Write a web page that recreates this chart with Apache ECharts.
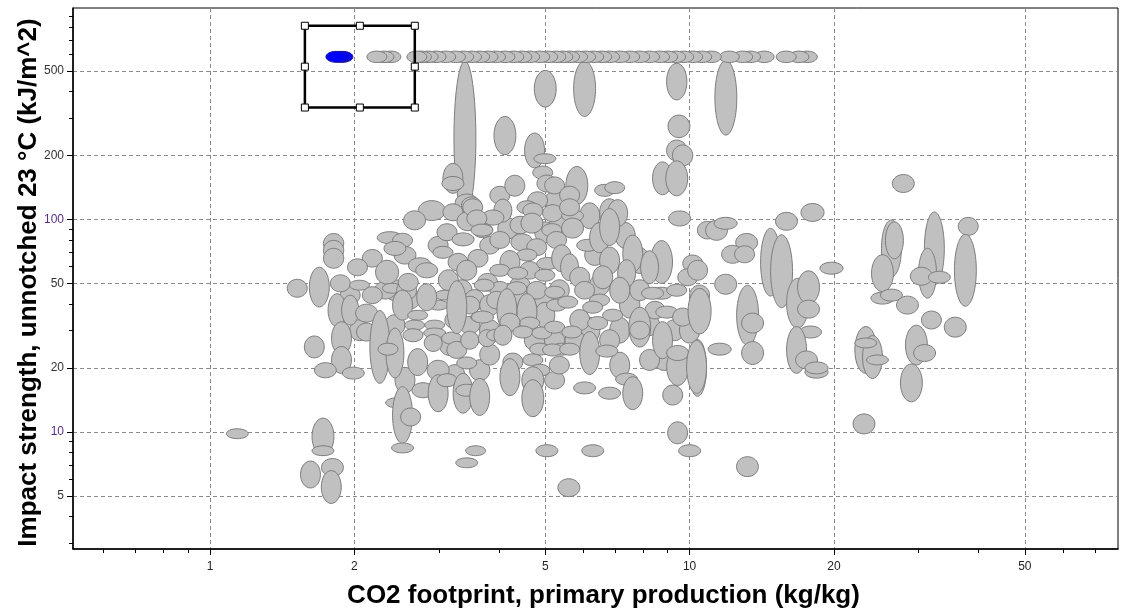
<!DOCTYPE html>
<html><head><meta charset="utf-8">
<script src="https://cdn.jsdelivr.net/npm/echarts@6/dist/echarts.min.js"></script>
<style>html,body{margin:0;padding:0;background:#fff}#c{width:1124px;height:610px}</style>
</head><body><div id="c"></div>
<script>
// Axis ranges and tick values (data units)
const X_MIN = 0.518, X_MAX = 78.2;
const Y_MIN = 2.81, Y_MAX = 988;
const xMajorTicks = [1, 2, 5, 10, 20, 50];
const xMinorTicks = [0.6, 0.7, 0.8, 0.9, 3, 4, 6, 7, 8, 9, 30, 40, 60, 70];
const yMajorTicks = [5, 10, 20, 50, 100, 200, 500];
const yMinorTicks = [3, 4, 6, 7, 8, 9, 30, 40, 60, 70, 80, 90, 300, 400, 600, 700, 800, 900];

// Each material: [CO2 centre (kg/kg), impact centre (kJ/m^2), CO2 range factor, impact range factor]
const grayMaterials = [
[3.40, 241, 1.054, 2.31],[4.12, 248, 1.054, 1.23],[5.0, 412, 1.054, 1.22],[6.04, 412, 1.054, 1.35],
[9.4, 445, 1.05, 1.22],[9.5, 274, 1.054, 1.13],[11.9, 374, 1.054, 1.50],
// fill of the dense cluster (drawn first, under the rest)
[3.35, 46.4, 1.05, 1.12],[3.56, 41.7, 1.05, 1.12],[4.43, 49, 1.05, 1.10],[4.99, 41.7, 1.05, 1.12],
[4.75, 27, 1.05, 1.12],[5.23, 27, 1.05, 1.10],[6.19, 30.1, 1.05, 1.15],[6.49, 49, 1.05, 1.12],
[7.5, 39.5, 1.05, 1.15],[8.25, 31.8, 1.05, 1.12],[9.3, 30.1, 1.05, 1.12],[10, 30.1, 1.05, 1.15],
[8.85, 21.8, 1.05, 1.12],[3.83, 30.1, 1.05, 1.12],[3.48, 31.8, 1.05, 1.10],[3.16, 25.6, 1.05, 1.12],
[3.65, 19.5, 1.05, 1.12],[2.43, 46.4, 1.05, 1.12],[2.61, 41.7, 1.05, 1.10],
[4.18, 90.7, 1.05, 1.12],[4.99, 86.9, 1.05, 1.12],[5.23, 122.8, 1.05, 1.10],
[3.83, 75.5, 1.049, 1.10],[3.62, 65.6, 1.049, 1.10],[3.29, 62.9, 1.049, 1.10],[3.14, 51.7, 1.049, 1.12],
[3.79, 50.6, 1.049, 1.10],[2.99, 75.5, 1.049, 1.10],[2.55, 67.8, 1.054, 1.10],[2.18, 65.6, 1.049, 1.10],
[2.32, 46.4, 1.054, 1.10],[1.96, 44, 1.049, 1.10],[2.43, 31.8, 1.049, 1.12],[2.05, 30.1, 1.049, 1.12],
[3.24, 33.6, 1.049, 1.10],[3.48, 39.5, 1.049, 1.10],[3.83, 39.5, 1.049, 1.12],[3.83, 23.1, 1.049, 1.12],
[3.24, 18.5, 1.049, 1.12],[2.55, 17.5, 1.049, 1.15],
[4.02, 130, 1.049, 1.10],[4.32, 144, 1.049, 1.12],[4.43, 94, 1.049, 1.10],[5.35, 94, 1.049, 1.12],
[6.19, 104, 1.049, 1.15],[6.34, 68, 1.049, 1.12],[7.34, 84, 1.049, 1.15],[7.87, 64, 1.049, 1.15],
[7.87, 46.4, 1.049, 1.12],[8.47, 37.4, 1.049, 1.10],[7.15, 30.1, 1.049, 1.15],[6.81, 27, 1.049, 1.12],
[5.77, 27, 1.049, 1.12],[4.99, 35.4, 1.049, 1.15],[4.43, 41.7, 1.049, 1.12],[5.90, 33.6, 1.049, 1.12],
[5.35, 46.4, 1.049, 1.12],[4.64, 57.6, 1.049, 1.10],[4.02, 46.4, 1.049, 1.10],[5.23, 17.5, 1.049, 1.10],
[5.35, 20.6, 1.049, 1.10],[7.15, 20.6, 1.049, 1.15],[8.25, 21.8, 1.049, 1.12],
// left cluster
[3.21, 156, 1.049, 1.176],[3.21, 147.5, 1.054, 1.079],[3.43, 120, 1.057, 1.096],[3.51, 116, 1.05, 1.10],
[2.90, 110, 1.067, 1.114],[3.21, 108, 1.049, 1.096],[2.67, 99, 1.054, 1.108],[3.45, 98, 1.054, 1.108],
[3.12, 87, 1.049, 1.096],[3.37, 80.5, 1.054, 1.073],[3.70, 89, 1.049, 1.085],
[1.81, 77, 1.05, 1.114],[1.81, 71.5, 1.05, 1.114],[1.81, 65.6, 1.05, 1.114],
[2.37, 82, 1.062, 1.067],[2.52, 79.7, 1.049, 1.079],[2.43, 73, 1.054, 1.079],[3.06, 70, 1.049, 1.067],
[2.03, 59.5, 1.049, 1.096],[2.34, 56.4, 1.057, 1.138],[2.74, 60.8, 1.057, 1.085],[2.83, 57.6, 1.054, 1.085],
[3.43, 57.6, 1.049, 1.114],[1.69, 48, 1.049, 1.241],[1.87, 50, 1.049, 1.096],[1.52, 47.4, 1.049, 1.102],
[2.05, 49, 1.049, 1.055],[2.18, 44, 1.049, 1.096],[2.40, 47.4, 1.049, 1.055],[2.57, 46.4, 1.049, 1.114],
[2.59, 50.6, 1.049, 1.10],[1.84, 37.4, 1.044, 1.195],[1.96, 37.4, 1.042, 1.176],[2.12, 36.2, 1.054, 1.102],
[2.12, 29.5, 1.049, 1.102],[1.88, 27.6, 1.049, 1.195],[1.88, 21.8, 1.049, 1.157],[1.65, 25.1, 1.049, 1.126],
[1.74, 19.5, 1.054, 1.085],[1.99, 18.9, 1.054, 1.067],[2.26, 25.1, 1.049, 1.484],[2.43, 23.5, 1.044, 1.31],
[2.35, 24.5, 1.049, 1.067],[2.52, 39.5, 1.049, 1.176],[2.71, 35.4, 1.049, 1.055],[2.67, 31.8, 1.049, 1.055],
[2.65, 28.5, 1.049, 1.073],[2.99, 39.5, 1.049, 1.055],[3.09, 44, 1.049, 1.055],[2.83, 43, 1.049, 1.157],
[2.94, 31.8, 1.049, 1.055],[2.94, 29.2, 1.054, 1.055],[2.92, 26.2, 1.044, 1.096],[3.19, 27.6, 1.049, 1.067],
[3.27, 24.3, 1.049, 1.096],[3.48, 27, 1.044, 1.102],[3.78, 27.6, 1.042, 1.096],[3.65, 34.7, 1.044, 1.055],
[3.27, 38.6, 1.049, 1.332],[2.71, 21.3, 1.049, 1.157],[2.99, 19.5, 1.054, 1.114],[3.43, 21.1, 1.049, 1.067],
[2.78, 15.7, 1.054, 1.085],[2.99, 15.2, 1.049, 1.222],[3.12, 17.5, 1.049, 1.073],[3.37, 15.2, 1.049, 1.241],
[3.43, 15.7, 1.054, 1.067],[3.65, 14.6, 1.049, 1.222],[2.45, 13.7, 1.054, 1.055],[2.52, 12, 1.049, 1.36],
[2.62, 11.75, 1.049, 1.102],[2.52, 8.4, 1.054, 1.055],[1.14, 9.8, 1.054, 1.055],[1.72, 9.5, 1.054, 1.222],
[1.72, 8.15, 1.054, 1.055],[1.62, 6.3, 1.049, 1.157],[1.80, 6.8, 1.054, 1.102],[1.79, 5.5, 1.049, 1.195],
[3.43, 7.15, 1.054, 1.055],[3.58, 8.15, 1.049, 1.055],
// centre cluster
[4.75, 211, 1.049, 1.208],[4.99, 193, 1.054, 1.055],[4.94, 166, 1.049, 1.073],[5.82, 144.5, 1.054, 1.228],
[6.65, 137, 1.049, 1.067],[6.98, 141, 1.049, 1.067],[5.04, 147.5, 1.049, 1.096],[5.23, 144.5, 1.049, 1.096],
[5.62, 130, 1.049, 1.102],[4.82, 123, 1.049, 1.096],[4.58, 114, 1.049, 1.073],[4.08, 110, 1.044, 1.132],
[3.89, 102, 1.054, 1.085],[3.53, 114, 1.049, 1.096],[3.60, 101, 1.049, 1.096],[4.71, 110, 1.049, 1.085],
[4.69, 96, 1.054, 1.114],[5.18, 107, 1.049, 1.096],[5.70, 104, 1.054, 1.067],[5.62, 114, 1.049, 1.096],
[6.81, 108, 1.049, 1.157],[7.08, 107, 1.049, 1.157],[9.53, 101, 1.054, 1.085],[9.4, 211, 1.05, 1.12],
[9.67, 200, 1.05, 1.12],[8.78, 156, 1.049, 1.195],[9.4, 156, 1.054, 1.208],[10.9, 89, 1.05, 1.10],
[3.69, 89, 1.054, 1.067],[4.02, 80, 1.049, 1.096],[4.47, 78, 1.054, 1.096],[4.80, 74, 1.049, 1.096],
[5.16, 89, 1.049, 1.073],[5.28, 80, 1.049, 1.096],[5.70, 91, 1.054, 1.114],[6.13, 75.5, 1.054, 1.067],
[6.49, 82, 1.049, 1.176],[6.81, 92, 1.049, 1.222],[7.61, 69, 1.049, 1.222],[8.74, 63, 1.054, 1.262],
[8.25, 59.5, 1.044, 1.195],[6.81, 64, 1.049, 1.157],[6.59, 53.4, 1.049, 1.132],[10.15, 62, 1.049, 1.096],
[9.91, 53.4, 1.049, 1.096],[4.58, 68, 1.049, 1.067],[4.22, 63, 1.049, 1.132],[4.02, 57.6, 1.049, 1.067],
[5.06, 62, 1.054, 1.067],[5.41, 65.6, 1.049, 1.157],[4.99, 54.6, 1.049, 1.067],[4.38, 55.8, 1.049, 1.067],
[5.62, 59.5, 1.044, 1.157],[5.90, 53.4, 1.049, 1.114],[7.39, 55.8, 1.044, 1.157],
[3.73, 49, 1.049, 1.067],[3.96, 41.7, 1.049, 1.10],[4.8, 46.4, 1.049, 1.10],[5.23, 45.4, 1.049, 1.067],
[6.04, 46.4, 1.049, 1.10],[7.15, 46.4, 1.049, 1.15],[6.49, 41.7, 1.049, 1.067],
[4.36, 47.4, 1.049, 1.073],[4.16, 37.4, 1.049, 1.262],[3.70, 34.7, 1.054, 1.067],[4.58, 36.6, 1.049, 1.222],
[4.64, 32.5, 1.049, 1.067],[4.22, 32.8, 1.049, 1.102],[3.96, 28.5, 1.049, 1.067],[4.08, 28.5, 1.044, 1.114],
[4.49, 29.5, 1.049, 1.067],[4.92, 29.2, 1.049, 1.067],[5.28, 39.5, 1.049, 1.067],[5.57, 40.8, 1.049, 1.067],
[5.23, 31.1, 1.049, 1.067],[5.68, 29.5, 1.049, 1.067],[6.28, 38.6, 1.049, 1.067],[6.43, 32.5, 1.049, 1.073],
[6.91, 35.4, 1.049, 1.067],[6.19, 23.5, 1.049, 1.262],[6.72, 24, 1.054, 1.067],[5.41, 24.5, 1.049, 1.067],
[4.87, 24.5, 1.049, 1.067],[5.18, 24.3, 1.049, 1.067],[5.62, 24.5, 1.049, 1.067],[4.28, 21.3, 1.049, 1.102],
[4.71, 21.8, 1.049, 1.067],[4.87, 19.5, 1.049, 1.067],[4.22, 18.1, 1.049, 1.222],[4.71, 17.5, 1.054, 1.157],
[4.71, 14.4, 1.054, 1.222],[6.04, 16.1, 1.054, 1.067],[6.81, 15.2, 1.054, 1.067],[7.39, 17.7, 1.054, 1.067],
[7.61, 15.2, 1.049, 1.195],[7.87, 31.1, 1.054, 1.241],[7.87, 30.1, 1.049, 1.102],[8.78, 27, 1.049, 1.222],
[8.96, 36.6, 1.054, 1.067],[8.74, 44.9, 1.054, 1.067],[9.4, 46.4, 1.049, 1.067],[8.37, 44.9, 1.054, 1.067],
[9.67, 34.7, 1.049, 1.102],[10.49, 44, 1.049, 1.114],[10.49, 37, 1.057, 1.28],[9.44, 20.2, 1.054, 1.222],
[9.44, 23.5, 1.054, 1.085],[10.39, 20, 1.044, 1.361],[9.22, 14.9, 1.049, 1.114],[9.44, 9.9, 1.049, 1.126],
[10, 8.15, 1.054, 1.067],[6.28, 8.15, 1.054, 1.067],[5.04, 8.15, 1.054, 1.067],[5.6, 5.46, 1.054, 1.102],
[13.2, 6.86, 1.054, 1.114],
// right of 10
[11.38, 88.8, 1.054, 1.114],[11.89, 95.8, 1.057, 1.067],[13.15, 77.9, 1.054, 1.102],[12.29, 68.5, 1.054, 1.102],
[13.02, 68.5, 1.049, 1.096],[15.92, 97.9, 1.054, 1.102],[18.04, 107.8, 1.057, 1.102],[14.75, 62.9, 1.049, 1.444],
[15.55, 57, 1.054, 1.484],[19.76, 58.9, 1.057, 1.067],[10.39, 57.6, 1.049, 1.114],[11.89, 49.5, 1.054, 1.114],
[13.21, 35.4, 1.054, 1.383],[13.53, 32.5, 1.054, 1.114],[13.53, 23.5, 1.054, 1.132],[11.55, 24.5, 1.057, 1.067],
[16.79, 40.3, 1.054, 1.31],[17.7, 47.9, 1.054, 1.195],[17.7, 37.8, 1.054, 1.102],[17.87, 29.5, 1.054, 1.067],
[16.71, 24.3, 1.049, 1.289],[17.53, 21.8, 1.054, 1.102],[18.39, 19.1, 1.057, 1.067],[18.39, 20, 1.057, 1.067],
[10.34, 20.2, 1.049, 1.332],
// far right
[27.9, 147.5, 1.054, 1.102],[26.35, 73, 1.049, 1.361],[26.73, 79.7, 1.044, 1.222],[25.24, 55.8, 1.054, 1.222],
[25.24, 42.6, 1.057, 1.067],[26.35, 44, 1.054, 1.067],[28.46, 39.5, 1.054, 1.102],[32.38, 73, 1.049, 1.484],
[31.33, 55.8, 1.044, 1.31],[30.42, 54, 1.054, 1.102],[33.17, 53.4, 1.054, 1.067],[38.1, 92.7, 1.049, 1.102],
[37.58, 57.6, 1.054, 1.476],[31.93, 33.6, 1.049, 1.102],[35.8, 31.1, 1.054, 1.114],[23.3, 24.3, 1.054, 1.289],
[24.06, 22.5, 1.049, 1.262],[23.3, 26.2, 1.054, 1.055],[24.64, 21.8, 1.054, 1.055],[29.71, 25.6, 1.054, 1.241],
[30.9, 23.5, 1.054, 1.096],[29.0, 17, 1.054, 1.228],[23.1, 10.9, 1.054, 1.114]
];

// Materials capped at the top of the impact scale (listed right to left)
const topRowCO2 = [17.6, 16.9, 15.9, 14.3, 13.4, 12.9, 12.1, 11.1, 10.6, 10.15, 9.72, 9.35, 9.0, 8.66, 8.25,
  7.87, 7.50, 7.15, 6.81, 6.56, 6.31, 6.07, 5.84, 5.62, 5.44, 5.26, 5.06, 4.87, 4.64, 4.47, 4.30, 4.12,
  3.94, 3.80, 3.65, 3.51, 3.38, 3.25, 3.10, 2.96, 2.85, 2.76, 2.70, 2.383, 2.305, 2.228];
const topRowImpact = 582;

// Highlighted (selected) material
const blueMaterials = [[1.893, 582, 1.049, 1.061], [1.866, 582, 1.049, 1.061], [1.83, 582, 1.049, 1.061]];

// Selection box: [CO2 low, CO2 high, impact low, impact high]
const selectionBox = [[1.577, 2.673, 336, 815]];

const topRowData = topRowCO2.map(x => [x, topRowImpact, 1.049, 1.064]);

function ellipseItem(fill, stroke) {
  return function (params, api) {
    const x = api.value(0), y = api.value(1), fx = api.value(2), fy = api.value(3);
    const c = api.coord([x, y]);
    const p1 = api.coord([x / fx, y / fy]);
    const p2 = api.coord([x * fx, y * fy]);
    return {
      type: 'ellipse',
      shape: { cx: c[0], cy: c[1], rx: Math.abs(p2[0] - p1[0]) / 2, ry: Math.abs(p2[1] - p1[1]) / 2 },
      style: { fill: fill, stroke: stroke, lineWidth: 1 }
    };
  };
}

const labelFont = 'Liberation Sans, Arial, sans-serif';
const chart = echarts.init(document.getElementById('c'), null, { renderer: 'canvas' });
chart.setOption({
  animation: false,
  backgroundColor: '#fff',
  grid: { left: 73, right: 6, top: 8, bottom: 61, show: true, borderColor: '#000', borderWidth: 1,
    backgroundColor: 'transparent', containLabel: false, outerBoundsMode: 'none' },
  xAxis: [{
    type: 'log', logBase: 10, min: X_MIN, max: X_MAX, position: 'bottom',
    axisLine: { show: true, onZero: false, lineStyle: { color: '#000', width: 1.5 } },
    axisTick: { show: true, length: 6, customValues: xMajorTicks, lineStyle: { color: '#000' } },
    axisLabel: { show: true, customValues: xMajorTicks, margin: 12, color: '#222', fontSize: 12, fontFamily: labelFont },
    splitLine: { show: true, lineStyle: { color: '#8a8a8a', type: [4, 3], width: 1 } },
    name: 'CO2 footprint, primary production (kg/kg)', nameLocation: 'middle', nameGap: 34, nameMoveOverlap: false,
    nameTextStyle: { color: '#000', fontSize: 26, fontWeight: 'bold', fontFamily: labelFont, padding: [0, 0, 0, 16] }
  }, {
    type: 'log', logBase: 10, min: X_MIN, max: X_MAX, position: 'bottom',
    axisLine: { show: false }, axisLabel: { show: false }, splitLine: { show: false },
    axisTick: { show: true, length: 4, customValues: xMinorTicks, lineStyle: { color: '#000' } }
  }],
  yAxis: [{
    type: 'log', logBase: 10, min: Y_MIN, max: Y_MAX, position: 'left',
    axisLine: { show: true, onZero: false, lineStyle: { color: '#000', width: 1.5 } },
    axisTick: { show: true, length: 6, customValues: yMajorTicks, lineStyle: { color: '#000' } },
    axisLabel: {
      show: true, customValues: yMajorTicks, margin: 9, fontSize: 12, fontFamily: labelFont, color: '#333',
      formatter: v => (v === 10 || v === 100) ? '{p|' + v + '}' : String(v),
      rich: { p: { color: '#5a2d82', fontSize: 12, fontFamily: labelFont } }
    },
    splitLine: { show: true, lineStyle: { color: '#8a8a8a', type: [4, 3], width: 1 } },
    name: 'Impact strength, unnotched 23 °C (kJ/m^2)', nameLocation: 'middle', nameGap: 31, nameMoveOverlap: false,
    nameTextStyle: { color: '#000', fontSize: 26, fontWeight: 'bold', fontFamily: labelFont, padding: [0, 8, 0, 0] }
  }, {
    type: 'log', logBase: 10, min: Y_MIN, max: Y_MAX, position: 'left',
    axisLine: { show: false }, axisLabel: { show: false }, splitLine: { show: false },
    axisTick: { show: true, length: 4, customValues: yMinorTicks, lineStyle: { color: '#000' } }
  }],
  series: [{
    type: 'custom', name: 'materials', xAxisIndex: 0, yAxisIndex: 0,
    data: grayMaterials.concat(topRowData), encode: { x: 0, y: 1 },
    renderItem: ellipseItem('#c0c0c0', '#7d7d7d'), clip: true
  }, {
    type: 'custom', name: 'selected', xAxisIndex: 0, yAxisIndex: 0,
    data: blueMaterials, encode: { x: 0, y: 1 },
    renderItem: ellipseItem('#0000ff', '#1a1aa0'), clip: true
  }, {
    type: 'custom', name: 'selection', xAxisIndex: 0, yAxisIndex: 0,
    data: selectionBox, encode: { x: [0, 1], y: [2, 3] },
    renderItem: function (params, api) {
      const a = api.coord([api.value(0), api.value(3)]);
      const b = api.coord([api.value(1), api.value(2)]);
      const children = [{ type: 'rect', shape: { x: a[0], y: a[1], width: b[0] - a[0], height: b[1] - a[1] },
        style: { fill: 'none', stroke: '#000', lineWidth: 2.5 } }];
      const xs = [a[0], (a[0] + b[0]) / 2, b[0]], ys = [a[1], (a[1] + b[1]) / 2, b[1]];
      xs.forEach((hx, i) => ys.forEach((hy, j) => {
        if (i === 1 && j === 1) return;
        children.push({ type: 'rect', shape: { x: hx - 3.5, y: hy - 3.5, width: 7, height: 7 },
          style: { fill: '#fff', stroke: '#000', lineWidth: 1 } });
      }));
      return { type: 'group', children: children };
    }
  }]
});
</script>
</body></html>
